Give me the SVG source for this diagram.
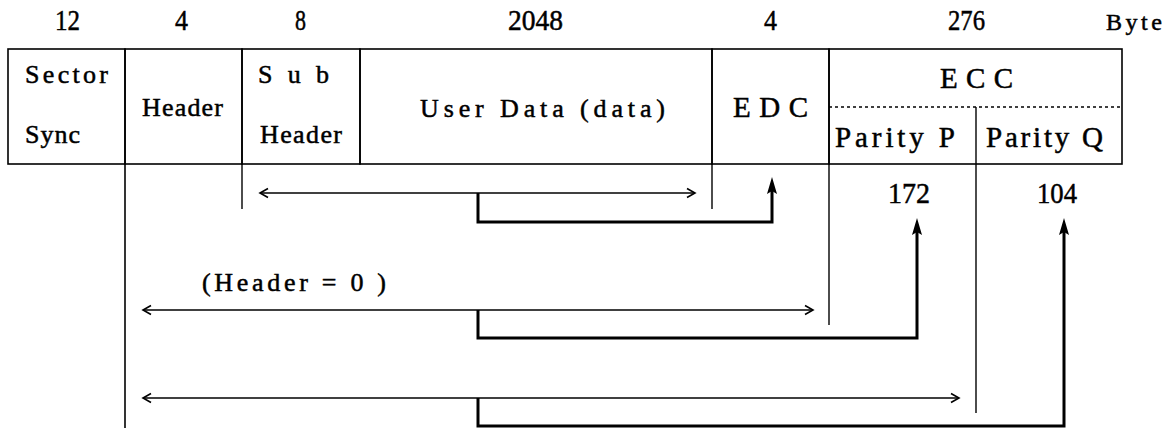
<svg xmlns="http://www.w3.org/2000/svg" xmlns:xlink="http://www.w3.org/1999/xlink" width="1176" height="428" viewBox="0 0 1176 428">
  <style>
    .t { font-family: "Liberation Serif", "DejaVu Serif", serif; fill: #000; stroke: #000; stroke-width: 0.5; }
    .num { font-size: 30px; }
    .lbl { font-size: 26px; }
    .big { font-size: 29px; }
    .grid { stroke: #000; stroke-width: 1.6; fill: none; }
    .thin { stroke: #000; stroke-width: 1.4; fill: none; }
    .thick { stroke: #000; stroke-width: 3; fill: none; stroke-linejoin: miter; }
    .dash { stroke: #000; stroke-width: 1.4; stroke-dasharray: 3 3; fill: none; }
  </style>
  <defs>
    <marker id="chev" viewBox="-10 -6 12 12" refX="0" refY="0" markerWidth="12" markerHeight="12" markerUnits="userSpaceOnUse" orient="auto-start-reverse">
      <path d="M-8,-4.5 L0,0 L-8,4.5" fill="none" stroke="#000" stroke-width="1.6"/>
    </marker>
    <path id="upHead" d="M0,0 L-5,17 L0,14 L5,17 Z" fill="#000"/>
  </defs>

  <rect width="1176" height="428" fill="#fff"/>

  <!-- byte counts above the fields -->
  <g id="sizes">
    <text class="t num" x="55" y="30" textLength="25" lengthAdjust="spacingAndGlyphs">12</text>
    <text class="t num" x="175" y="30" textLength="13" lengthAdjust="spacingAndGlyphs">4</text>
    <text class="t num" x="295" y="30" textLength="11" lengthAdjust="spacingAndGlyphs">8</text>
    <text class="t num" x="508" y="30" textLength="55" lengthAdjust="spacingAndGlyphs">2048</text>
    <text class="t num" x="764" y="30" textLength="13" lengthAdjust="spacingAndGlyphs">4</text>
    <text class="t num" x="948" y="30" textLength="37" lengthAdjust="spacingAndGlyphs">276</text>
    <text class="t" style="font-size:24px" x="1106" y="30" textLength="56" lengthAdjust="spacing">Byte</text>
  </g>

  <!-- sector fields -->
  <g id="sector-sync">
    <rect class="grid" x="8" y="49" width="117" height="115"/>
    <text class="t lbl" x="25" y="83" textLength="83" lengthAdjust="spacing">Sector</text>
    <text class="t lbl" x="25" y="143" textLength="55" lengthAdjust="spacing">Sync</text>
  </g>
  <g id="header">
    <rect class="grid" x="125" y="49" width="117" height="115"/>
    <text class="t lbl" x="142" y="116" textLength="81" lengthAdjust="spacing">Header</text>
  </g>
  <g id="sub-header">
    <rect class="grid" x="242" y="49" width="118" height="115"/>
    <text class="t lbl" x="258" y="83" textLength="71" lengthAdjust="spacing">S u b</text>
    <text class="t lbl" x="260" y="143" textLength="82" lengthAdjust="spacing">Header</text>
  </g>
  <g id="user-data">
    <rect class="grid" x="360" y="49" width="352" height="115"/>
    <text class="t lbl" x="420" y="117" textLength="245" lengthAdjust="spacing">User Data  (data)</text>
  </g>
  <g id="edc">
    <rect class="grid" x="712" y="49" width="117" height="115"/>
    <text class="t big" x="733" y="117" textLength="75" lengthAdjust="spacing">E D C</text>
  </g>
  <g id="ecc">
    <rect class="grid" x="829" y="49" width="293" height="115"/>
    <text class="t big" x="940" y="88" textLength="73" lengthAdjust="spacing">E C C</text>
    <line class="dash" x1="829" y1="107" x2="1122" y2="107"/>
  </g>
  <g id="parity-p">
    <text class="t big" x="835" y="147" textLength="120" lengthAdjust="spacing">Parity P</text>
    <text class="t num" x="888" y="203" textLength="42" lengthAdjust="spacingAndGlyphs">172</text>
  </g>
  <g id="parity-q">
    <text class="t big" x="986" y="147" textLength="117" lengthAdjust="spacing">Parity Q</text>
    <text class="t num" x="1037" y="203" textLength="40" lengthAdjust="spacingAndGlyphs">104</text>
  </g>

  <text class="t lbl" x="202" y="291" textLength="184" lengthAdjust="spacing">(Header  = 0 )</text>

  <!-- range markers and coverage arrows -->
  <g id="connectors">
    <!-- field boundaries extended below the table -->
    <line class="grid" x1="125" y1="164" x2="125" y2="428"/>
    <line class="thin" x1="242" y1="164" x2="242" y2="209"/>
    <line class="thin" x1="712" y1="164" x2="712" y2="209"/>
    <line class="thin" x1="829" y1="164" x2="829" y2="325"/>
    <line class="thin" x1="976" y1="107" x2="976" y2="413"/>

    <!-- EDC coverage -->
    <line class="thin" x1="260" y1="193" x2="695" y2="193" marker-start="url(#chev)" marker-end="url(#chev)"/>
    <path class="thick" d="M478,193 V222 H772 V188"/>
    <use xlink:href="#upHead" x="772" y="177"/>

    <!-- P parity coverage -->
    <line class="thin" x1="143" y1="310" x2="813" y2="310" marker-start="url(#chev)" marker-end="url(#chev)"/>
    <path class="thick" d="M478,310 V338 H917 V229"/>
    <use xlink:href="#upHead" x="917" y="218"/>

    <!-- Q parity coverage -->
    <line class="thin" x1="143" y1="398" x2="959" y2="398" marker-start="url(#chev)" marker-end="url(#chev)"/>
    <path class="thick" d="M478,398 V426 H1064 V229"/>
    <use xlink:href="#upHead" x="1064" y="218"/>
  </g>
</svg>
